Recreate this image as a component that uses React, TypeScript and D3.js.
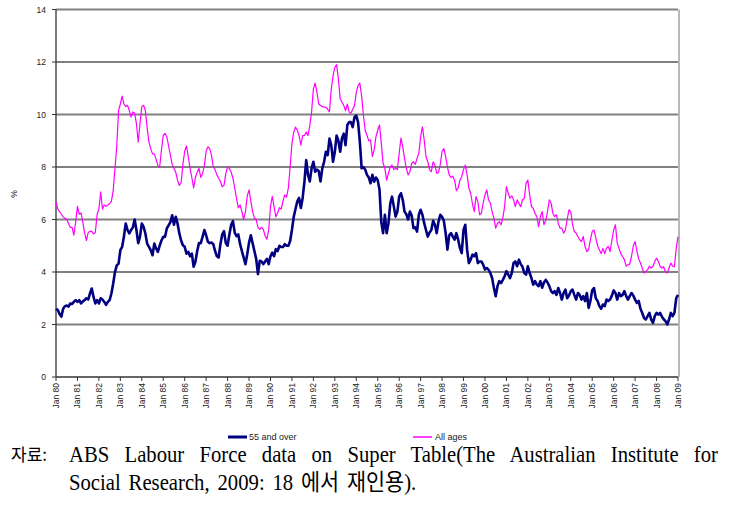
import React, { useLayoutEffect, useRef, useState } from "react";
import * as d3 from "d3";

// Monthly unemployment rate (%), Jan 1980 .. Jan 2009
const over55: number[] = [
  2.6, 2.55, 2.4, 2.3, 2.6, 2.7, 2.72, 2.68, 2.8, 2.78, 2.86, 2.93,
  2.86, 2.93, 2.8, 2.88, 2.93, 3.0, 2.95, 3.18, 3.37, 3.05, 2.8, 2.93,
  2.8, 3.0, 2.95, 2.86, 2.75, 2.86, 2.93, 3.18, 3.56, 4.0, 4.25, 4.32,
  4.83, 4.96, 5.34, 5.85, 5.6, 5.47, 5.6, 5.7, 6.0, 5.6, 5.1, 5.34,
  5.85, 5.72, 5.47, 5.08, 4.96, 4.83, 4.64, 5.08, 4.9, 4.77, 5.0, 5.2,
  5.34, 5.34, 5.66, 5.78, 5.9, 6.16, 5.8, 6.1, 5.85, 5.47, 5.2, 5.02,
  4.96, 4.7, 4.77, 4.6, 4.7, 4.2, 4.39, 4.8, 5.1, 5.1, 5.34, 5.6,
  5.4, 5.15, 5.1, 5.12, 5.06, 4.8, 4.6, 4.55, 5.06, 5.43, 5.56, 5.1,
  5.0, 5.43, 5.8, 5.94, 5.5, 5.37, 5.43, 5.06, 4.8, 4.55, 4.3, 4.68,
  5.12, 5.4, 5.1, 4.8, 4.5, 3.92, 4.43, 4.4, 4.3, 4.4, 4.5, 4.3,
  4.6, 4.74, 4.6, 4.87, 4.8, 5.0, 4.95, 4.95, 5.06, 5.0, 5.0, 5.18,
  5.6, 6.1, 6.4, 6.69, 6.82, 6.44, 6.82, 7.45, 8.26, 7.7, 7.45, 7.95,
  8.2, 7.82, 7.9, 7.85, 7.45, 7.95, 8.2, 8.58, 8.45, 9.08, 8.83, 8.2,
  8.58, 9.2, 9.0, 8.58, 9.1, 9.27, 8.83, 9.6, 9.71, 9.71, 9.52, 9.9,
  9.96, 9.71, 8.96, 7.95, 8.0, 7.9, 7.7, 7.6, 7.38, 7.7, 7.44, 7.6,
  7.5, 7.13, 5.9, 5.48, 6.18, 5.48, 5.86, 6.6, 6.87, 6.5, 6.11, 6.3,
  6.87, 7.0, 6.75, 6.3, 6.2, 6.0, 6.3, 6.15, 5.67, 5.7, 5.54, 6.18,
  6.37, 6.18, 5.86, 5.6, 5.35, 5.5, 5.6, 5.95, 5.8, 5.48, 5.92, 6.18,
  6.1, 5.95, 5.48, 4.85, 5.4, 5.48, 5.35, 5.23, 5.48, 5.23, 4.91, 4.72,
  5.6, 5.8, 4.85, 4.34, 4.47, 4.66, 4.6, 4.72, 4.34, 4.4, 4.4, 4.28,
  4.09, 4.15, 4.09, 3.96, 3.77, 3.39, 3.08, 3.46, 3.65, 3.58, 3.7, 3.84,
  4.03, 3.9, 3.77, 3.96, 4.34, 4.4, 4.22, 4.47, 4.3, 4.2, 3.96, 3.9,
  4.22, 3.96, 3.77, 3.52, 3.65, 3.52, 3.46, 3.65, 3.4, 3.6, 3.7, 3.6,
  3.46, 3.27, 3.2, 3.27, 3.13, 3.39, 3.2, 2.95, 3.2, 3.33, 3.0, 3.1,
  3.27, 3.33, 3.13, 2.95, 3.2, 3.13, 2.95, 3.08, 2.89, 3.2, 2.63, 2.9,
  3.3, 3.39, 3.0, 2.9, 2.7, 2.6, 2.76, 2.7, 2.95, 2.9, 2.95, 3.1,
  3.3, 3.2, 2.95, 3.2, 3.08, 3.13, 3.27, 3.08, 2.95, 3.08, 3.2, 3.1,
  2.95, 2.82, 2.9, 2.6, 2.44, 2.25, 2.19, 2.32, 2.44, 2.19, 2.06, 2.32,
  2.44, 2.38, 2.44, 2.3, 2.2, 2.13, 2.0, 2.19, 2.44, 2.32, 2.44, 3.0,
  3.13,
];

const allAges: number[] = [
  6.67, 6.4, 6.3, 6.2, 6.1, 6.05, 6.0, 5.85, 5.7, 5.7, 5.4, 5.9,
  6.5, 6.2, 6.25, 5.9, 5.5, 5.2, 5.5, 5.55, 5.55, 5.45, 5.5, 6.2,
  6.4, 7.05, 6.4, 6.55, 6.5, 6.55, 6.6, 6.7, 7.1, 7.95, 8.8, 10.15,
  10.4, 10.7, 10.4, 10.3, 10.35, 10.15, 9.9, 10.1, 10.05, 9.65, 8.95, 9.65,
  10.3, 10.35, 10.15, 9.5, 8.95, 8.7, 8.5, 8.5, 8.3, 8.05, 8.0, 8.65,
  9.2, 9.28, 9.15, 8.8, 8.45, 8.1, 7.95, 7.8, 7.5, 7.3, 7.4, 8.1,
  8.6, 8.8, 8.4, 7.95, 7.6, 7.2, 7.6, 7.8, 7.95, 7.6, 7.75, 8.05,
  8.6, 8.77, 8.7, 8.45, 8.0, 7.9, 7.7, 7.57, 7.45, 7.25, 7.3, 7.75,
  8.0, 7.95, 7.8, 7.57, 7.2, 6.8, 6.44, 6.56, 6.3, 6.0, 6.3, 6.9,
  7.13, 6.7, 6.3, 6.06, 6.0, 5.7, 5.62, 5.7, 5.62, 5.37, 5.25, 5.6,
  6.5, 6.88, 6.5, 6.1, 6.25, 6.45, 6.4, 6.7, 6.94, 6.85, 7.2, 8.0,
  8.9, 9.33, 9.52, 9.4, 9.2, 8.83, 9.2, 9.2, 9.33, 9.2, 9.58, 10.1,
  10.97, 11.2, 10.84, 10.4, 10.34, 10.3, 10.28, 10.28, 10.2, 10.1, 10.97, 11.47,
  11.8, 11.9, 11.35, 10.6, 10.47, 10.34, 10.15, 10.4, 10.1, 10.05, 10.2, 10.34,
  10.84, 11.1, 11.2, 10.7, 9.96, 9.4, 9.2, 9.0, 9.03, 8.4, 8.65, 9.15,
  9.4, 9.6, 8.9, 8.14, 7.95, 7.5, 7.76, 8.0, 8.07, 7.9, 7.95, 7.9,
  8.52, 9.1, 8.77, 8.33, 7.95, 7.7, 7.82, 8.14, 8.2, 8.1, 8.33, 8.52,
  9.15, 9.53, 9.03, 8.39, 8.2, 7.9, 7.82, 8.2, 8.07, 7.76, 7.8, 8.1,
  8.6, 8.7, 8.4, 8.0, 7.7, 7.6, 7.65, 7.5, 7.1, 7.2, 7.5, 7.63,
  7.9, 8.07, 7.7, 7.19, 7.0, 6.6, 6.3, 6.87, 6.68, 6.18, 6.24, 6.62,
  6.94, 7.13, 6.75, 6.62, 6.3, 6.05, 5.67, 5.86, 5.92, 5.8, 6.05, 6.5,
  7.25, 7.0, 6.81, 6.9, 6.75, 6.49, 6.75, 6.62, 6.49, 6.75, 6.8, 7.38,
  7.5, 6.94, 6.49, 6.43, 6.24, 6.11, 5.73, 6.11, 6.3, 5.8, 5.95, 6.3,
  6.75, 6.62, 6.24, 6.11, 6.18, 5.86, 5.67, 5.67, 5.48, 5.6, 6.0, 6.37,
  6.3, 5.8, 5.54, 5.48, 5.35, 5.23, 5.16, 5.35, 4.97, 4.78, 4.85, 5.23,
  5.54, 5.6, 5.3, 5.0, 4.85, 4.7, 4.9, 4.7, 4.91, 4.97, 4.78, 5.2,
  5.6, 5.8, 5.1, 4.9, 4.7, 4.59, 4.47, 4.22, 4.28, 4.3, 4.6, 5.0,
  5.16, 4.8, 4.5, 4.34, 4.15, 3.96, 4.03, 4.09, 4.22, 4.15, 4.22, 4.4,
  4.53, 4.4, 4.22, 4.15, 4.2, 4.0, 3.96, 4.15, 4.34, 4.22, 4.2, 4.9,
  5.35,
];

const yTicks: number[] = [0, 2, 4, 6, 8, 10, 12, 14];
const xTickLabels: string[] = [
  "Jan 80", "Jan 81", "Jan 82", "Jan 83", "Jan 84", "Jan 85", "Jan 86", "Jan 87",
  "Jan 88", "Jan 89", "Jan 90", "Jan 91", "Jan 92", "Jan 93", "Jan 94", "Jan 95",
  "Jan 96", "Jan 97", "Jan 98", "Jan 99", "Jan 00", "Jan 01", "Jan 02", "Jan 03",
  "Jan 04", "Jan 05", "Jan 06", "Jan 07", "Jan 08", "Jan 09",
];
const seriesNames: string[] = ["55 and over", "All ages"];
const seriesColors: string[] = ["#000080", "#ff00ff"];

const captionPrefix = "자료:";
const captionLine1 = "ABS Labour Force data on Super Table(The Australian Institute for";
const captionLine2 = "Social Research, 2009: 18 에서 재인용).";

const W = 756;
const H = 508;
const L = 56, R = 678, T = 9.5, B = 377;
const SX = 0.9;

export default function App() {
  const x = d3.scaleLinear().domain([0, over55.length - 1]).range([L, R]);
  const y = d3.scaleLinear().domain([0, 14]).range([B, T]);
  const line = d3
    .line<number>()
    .x((_, i) => x(i))
    .y((d) => y(d));

  const l1Ref = useRef<SVGTextElement>(null);
  const [ws, setWs] = useState(0);
  useLayoutEffect(() => {
    const el = l1Ref.current;
    if (!el) return;
    const w = el.getComputedTextLength();
    const target = (718 - 69) / SX;
    const spaces = (captionLine1.match(/ /g) || []).length;
    setWs(Math.max(0, (target - w) / spaces));
  }, []);

  const axisFont = "'Liberation Sans', Arial, sans-serif";
  const capFont = "'Liberation Serif', 'Times New Roman', 'Noto Sans CJK KR', serif";

  return (
    <svg
      width={W}
      height={H}
      viewBox={`0 0 ${W} ${H}`}
      style={{ position: "absolute", left: 0, top: 0, background: "#fff" }}
    >
      <rect x={0} y={0} width={W} height={H} fill="#fff" />
      {/* gridlines */}
      {yTicks.filter((t) => t > 0).map((t) => (
        <line key={t} x1={L} x2={R} y1={y(t)} y2={y(t)} stroke="#808080" strokeWidth={1.8} />
      ))}
      {/* right border */}
      <line x1={R + 1} x2={R + 1} y1={T} y2={B} stroke="#b8b8b8" strokeWidth={2} />
      {/* y axis */}
      <line x1={L} x2={L} y1={T} y2={B} stroke="#333" strokeWidth={1.3} />
      {yTicks.map((t) => (
        <g key={t}>
          <line x1={L - 4} x2={L} y1={y(t)} y2={y(t)} stroke="#333" strokeWidth={1} />
          <text
            x={L - 10}
            y={y(t) + 3}
            textAnchor="end"
            fontFamily={axisFont}
            fontSize={8.5}
            fill="#222"
          >
            {t}
          </text>
        </g>
      ))}
      <text
        transform={`translate(${17}, ${194}) rotate(-90)`}
        textAnchor="middle"
        fontFamily={axisFont}
        fontSize={8.5}
        fill="#222"
      >
        %
      </text>
      {/* x axis */}
      <line x1={L} x2={R} y1={B} y2={B} stroke="#333" strokeWidth={1.5} />
      {xTickLabels.map((lab, i) => {
        const xi = x(i * 12);
        return (
          <g key={lab}>
            <line x1={xi} x2={xi} y1={B} y2={B + 4} stroke="#333" strokeWidth={1} />
            <text
              transform={`translate(${xi + 3}, ${B + 6}) rotate(-90)`}
              textAnchor="end"
              fontFamily={axisFont}
              fontSize={8.5}
              fill="#222"
            >
              {lab}
            </text>
          </g>
        );
      })}
      {/* series */}
      <path d={line(allAges) || ""} fill="none" stroke={seriesColors[1]} strokeWidth={1.2} strokeLinejoin="round" />
      <path d={line(over55) || ""} fill="none" stroke={seriesColors[0]} strokeWidth={2.6} strokeLinejoin="round" />
      {/* legend */}
      <line x1={228} x2={247} y1={437} y2={437} stroke={seriesColors[0]} strokeWidth={3} />
      <text x={249} y={440} fontFamily={axisFont} fontSize={9} fill="#222">
        {seriesNames[0]}
      </text>
      <line x1={413} x2={432} y1={437} y2={437} stroke={seriesColors[1]} strokeWidth={1.5} />
      <text x={435} y={440} fontFamily={axisFont} fontSize={9} fill="#222">
        {seriesNames[1]}
      </text>
      {/* caption */}
      <text
        x={11}
        y={461}
        fontFamily="'Noto Sans CJK KR', sans-serif"
        fontSize={17}
        fill="#000"
      >
        {captionPrefix}
      </text>
      <text
        ref={l1Ref}
        transform={`translate(69, 462) scale(${SX}, 1)`}
        fontFamily={capFont}
        fontSize={23}
        fill="#000"
        style={{ wordSpacing: `${ws}px` }}
      >
        {captionLine1}
      </text>
      <text
        transform={`translate(69, 489.5) scale(${SX}, 1)`}
        fontFamily={capFont}
        fontSize={23}
        fill="#000"
        style={{ wordSpacing: "3px" }}
      >
        {captionLine2}
      </text>
    </svg>
  );
}
